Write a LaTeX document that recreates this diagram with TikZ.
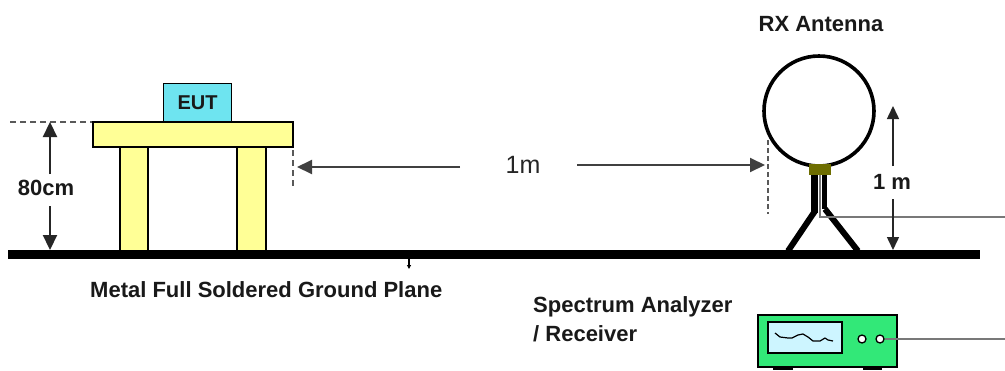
\documentclass[tikz,border=0pt]{standalone}
\usepackage{fontspec}
\setmainfont{Liberation Sans}
\usetikzlibrary{arrows.meta}
\definecolor{tableyellow}{RGB}{255,255,150}
\definecolor{eutcyan}{RGB}{110,228,240}
\definecolor{mastolive}{RGB}{110,110,0}
\definecolor{boxgreen}{RGB}{50,232,120}
\definecolor{screenblue}{RGB}{205,245,255}
\definecolor{labelgray}{RGB}{25,25,25}
\definecolor{cablegray}{RGB}{120,120,120}
\tikzset{
  lbl/.style={font=\fontsize{22}{26}\selectfont\bfseries, text=labelgray, inner sep=0pt},
  dimarrow/.style={line width=2.2pt, draw=black!85, -{Triangle[width=14pt,length=15pt]}},
  smallarrow/.style={line width=1.5pt, draw=black!85, -{Triangle[width=12pt,length=13pt]}},
  guide/.style={line width=1.8pt, draw=black!65, dash pattern=on 6pt off 4pt},
  wood/.style={fill=tableyellow, draw=black, line width=1.3pt},
  cable/.style={line width=1.5pt, draw=cablegray}
}
\begin{document}
\begin{tikzpicture}[x=1pt,y=-1pt]
\useasboundingbox[fill=white] (0,0) rectangle (1005,370);

% table with the equipment under test
\draw[wood] (120,147) rectangle (148,252);
\draw[wood] (237,147) rectangle (266,252);
\draw[wood] (93,122) rectangle (293,147);
\node[draw=black, line width=1.3pt, fill=eutcyan, minimum width=68pt, minimum height=38pt,
      anchor=south west, inner sep=0pt] (eut) at (163,122) {};
\node[lbl, font=\fontsize{20}{24}\selectfont\bfseries] at (eut.center) {EUT};

% ground plane
\fill[black] (8,250) rectangle (980,259);
\coordinate (gtick) at (409,259);
\coordinate (gtickend) at (409,269);
\draw[line width=1.2pt, -{Triangle[width=4pt,length=4pt]}] (gtick) -- (gtickend);
\node[lbl, anchor=west] (gp) at (90,290) {Metal Full Soldered Ground Plane};

% 80 cm table height
\coordinate (tabtop) at (10,122);
\coordinate (tabedge) at (92,122);
\draw[guide] (tabtop) -- (tabedge);
\node[lbl] (h80) at (46,188) {80cm};
\coordinate (h80top) at (50,122);
\coordinate (h80bot) at (50,250);
\draw[dimarrow] (50,174) -- (h80top);
\draw[dimarrow] (50,206) -- (h80bot);

% 1 m separation
\coordinate (eutedgeA) at (293,150);
\coordinate (eutedgeB) at (293,188);
\draw[guide] (eutedgeA) -- (eutedgeB);
\coordinate (antedgeA) at (768,140);
\coordinate (antedgeB) at (768,214);
\draw[guide, line width=1.4pt, dash pattern=on 5pt off 3pt] (antedgeA) -- (antedgeB);
\node[font=\fontsize{25}{28}\selectfont, text=black!85, inner sep=0pt] (d1m) at (523,165) {1m};
\coordinate (d1mL) at (297,167);
\coordinate (d1mR) at (765,165);
\draw[dimarrow, line width=2pt, draw=black!75] (460,167) -- (d1mL);
\draw[dimarrow, line width=2pt, draw=black!75] (577,165) -- (d1mR);

% loop antenna on its tripod
\node[lbl] (rx) at (821,24) {RX Antenna};
\draw[line width=3.6pt] (819,111) circle[radius=55pt];
\draw[line width=6pt] (788,251) -- (815,211);
\draw[line width=6pt] (858,251) -- (825,209);
\fill[black] (811,172) rectangle (818,213);
\fill[black] (822,172) rectangle (827,209);
\node[fill=mastolive, minimum width=22pt, minimum height=11pt, inner sep=0pt] (mast) at (820,169) {};
\coordinate (antout) at (1005,217);
\draw[cable] (mast.south) -- (820,217) -- (antout);

% antenna height
\node[lbl] (h1m) at (892,182) {1 m};
\coordinate (h1mtop) at (893,106);
\coordinate (h1mbot) at (893,250);
\draw[smallarrow] (893,166) -- (h1mtop);
\draw[smallarrow] (893,199) -- (h1mbot);

% spectrum analyzer / receiver
\node[lbl, anchor=west] (sa1) at (533,307) {Spectrum Analyzer};
\node[lbl, anchor=west] (sa2) at (533,334) {/ Receiver};
\fill[black] (773,364) rectangle (793,370);
\fill[black] (863,364) rectangle (882,370);
\node[draw=black, line width=1.6pt, fill=boxgreen, minimum width=139pt, minimum height=52pt,
      anchor=north west, inner sep=0pt] (sa) at (757,314) {};
\draw[line width=1.6pt, fill=screenblue] (768,322) rectangle (842,353);
\draw[line width=1.2pt, line join=round] (775,333) -- (780,337) -- (788,338) -- (792,338)
   -- (798,335) -- (803,334) -- (808,337) -- (813,341) -- (820,341) -- (825,338)
   -- (828,340) -- (833,341);
\node[circle, draw=black, line width=1.3pt, fill=white, minimum size=8pt, inner sep=0pt] (knobA) at (862,339) {};
\node[circle, draw=black, line width=1.3pt, fill=white, minimum size=8pt, inner sep=0pt] (knobB) at (880,339) {};
\coordinate (saout) at (1005,339);
\draw[cable] (knobB.east) -- (saout);
\end{tikzpicture}
\end{document}
